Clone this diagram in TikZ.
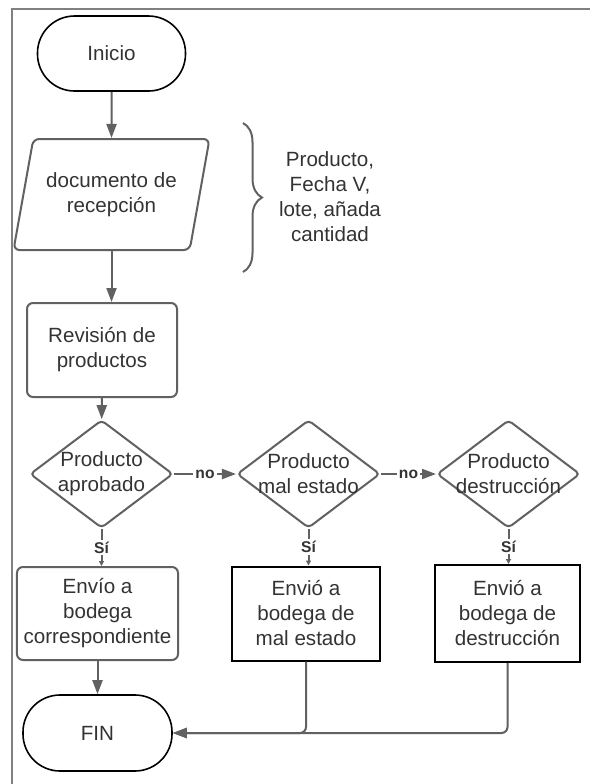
\documentclass[tikz,border=0pt]{standalone}
\usepackage{fontspec}
\setmainfont{Liberation Sans}
\usetikzlibrary{arrows.meta,calc,decorations.pathreplacing,shapes.geometric,positioning}
\definecolor{linegray}{rgb}{0.38, 0.38, 0.38}
\definecolor{textgray}{rgb}{0.2, 0.2, 0.2}
\definecolor{framegray}{rgb}{0.5, 0.5, 0.5}

\begin{document}
\begin{tikzpicture}[x=0.5pt,y=-0.5pt,
  txt/.style={font=\fontsize{10.3}{12.5}\selectfont, text=textgray, align=center},
  term/.style={txt, draw=black, line width=0.8pt, rounded corners=18.5pt, minimum width=74pt, minimum height=37.5pt},
  iobox/.style={txt, trapezium, trapezium left angle=71, trapezium right angle=109, trapezium stretches body,
    draw=linegray, line width=1pt, rounded corners=3pt, minimum width=98pt, minimum height=55.5pt},
  procbox/.style={txt, draw=linegray, line width=1pt, rounded corners=3pt, minimum width=75pt, minimum height=47pt},
  sqbox/.style={txt, draw=black, line width=1pt, minimum width=74pt, minimum height=47pt},
  decision/.style={diamond, draw=linegray, line width=1pt, rounded corners=2pt, inner sep=0pt,
    minimum width=71.5pt, minimum height=54pt},
  arr/.style={draw=linegray, line width=1pt, -{Triangle[length=7pt,width=5pt]}},
  sarr/.style={draw=linegray, line width=1pt, -{Triangle[length=2.5pt,width=2.5pt]}},
  lbl/.style={font=\fontsize{7.8}{9}\selectfont\bfseries, text=textgray, fill=white, inner sep=1pt}]
\useasboundingbox (0,0) rectangle (590,784);
% frame
\draw[framegray, line width=0.8pt] (590,9) -| (12,784);
\node[term] (inicio) at (111.5,53.5) {Inicio};
\node[iobox] (doc) at (111.5,194.5) {documento de\\recepción};
\draw[linegray, line width=1pt, decorate, decoration={brace, amplitude=9.5pt}] (243,123) -- (243,272);
\node[txt] (info) at (330,197) {Producto,\\Fecha V,\\lote, añada\\cantidad};
\node[procbox] (rev) at (102,350) {Revisión de\\productos};
\node[decision, label={[txt]center:Producto\\aprobado}] (d1) at (101.5,474) {};
\node[decision, label={[txt]center:Producto\\mal estado}] (d2) at (308.5,474) {};
\node[decision, label={[txt]center:Producto\\destrucción}] (d3) at (508.5,474) {};
\node[procbox, minimum width=74.5pt, minimum height=46.5pt] (b1) at (97.5,613.5) {Envío a\\bodega\\correspondiente};
\node[sqbox] (b2) at (306,613.5) {Envió a\\bodega de\\mal estado};
\node[sqbox, minimum width=72.5pt, minimum height=48.5pt] (b3) at (507.5,613.5) {Envió a\\bodega de\\destrucción};
\node[term, minimum width=74.5pt, minimum height=38pt] (fin) at (97.5,733) {FIN};
% connectors
\draw[arr] (inicio) -- (doc);
\draw[arr] (doc.south) -- (doc.south |- rev.north);
\draw[arr] (rev) -- (d1);
\draw[arr] (d1) -- node[lbl] {no} (d2);
\draw[arr] (d2) -- node[lbl] {no} (d3);
\draw[sarr] (d1.south) -- node[lbl] {Sí} (d1.south |- b1.north);
\draw[sarr] (d2.south) -- node[lbl] {Sí} (d2.south |- b2.north);
\draw[sarr] (d3.south) -- node[lbl] {Sí} (d3.south |- b3.north);
\draw[arr] (b1) -- (fin);
\draw[arr, rounded corners=3pt] (b2.south) |- (fin.east);
\draw[arr, rounded corners=3pt] (b3.south) |- (fin.east);
\end{tikzpicture}
\end{document}
